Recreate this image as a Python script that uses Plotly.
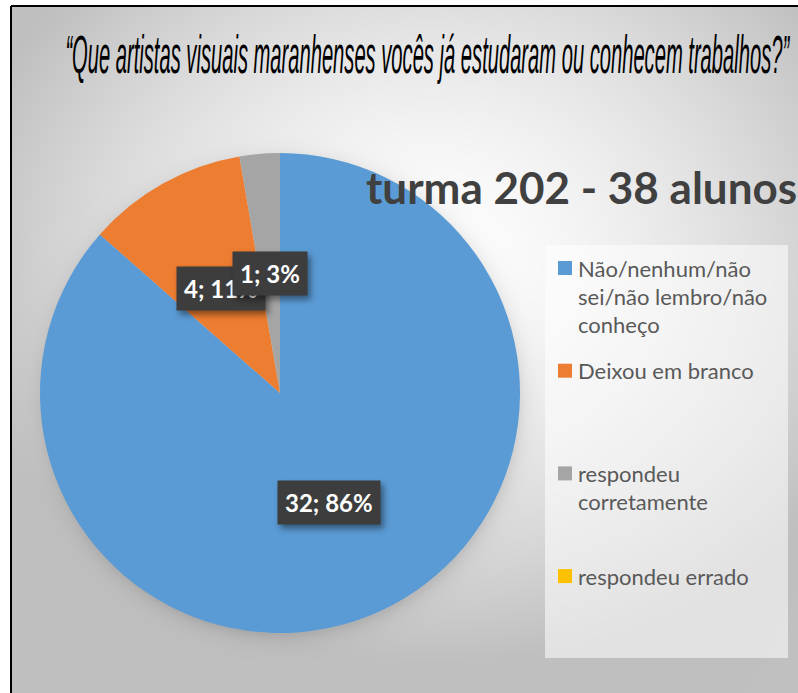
import plotly.graph_objects as go
import numpy as np
import zlib, struct, base64, math

# ---- data ----
labels = ["Não/nenhum/não<br>sei/não lembro/não<br>conheço",
          "Deixou em branco",
          "respondeu<br>corretamente",
          "respondeu errado"]
values = [32, 4, 1, 0]
colors = ["#5B9BD5", "#ED7D31", "#A5A5A5", "#FFC000"]
title_text = "“Que artistas visuais maranhenses vocês já estudaram ou conhecem trabalhos?”"
subtitle_text = "turma 202 - 38 alunos"

W, H = 798, 693
FX0, FY0 = 11, 6  # frame origin (px)


def px2paper(x, y):
    return x / W, 1 - y / H


# ---- pie geometry ----
cx, cy, R = 280, 393, 240


# ---- background gradient image ----
def make_png(arr):
    h, w = arr.shape
    raw = b"".join(b"\x00" + arr[i].tobytes() for i in range(h))

    def chunk(tag, data):
        return (struct.pack(">I", len(data)) + tag + data +
                struct.pack(">I", zlib.crc32(tag + data) & 0xffffffff))
    return (b"\x89PNG\r\n\x1a\n" +
            chunk(b"IHDR", struct.pack(">IIBBBBB", w, h, 8, 0, 0, 0, 0)) +
            chunk(b"IDAT", zlib.compress(raw, 9)) + chunk(b"IEND", b""))


gw, gh = W - FX0, H - FY0
yy, xx = np.mgrid[0:gh, 0:gw]
gx = xx + FX0
gy = yy + FY0
d = np.sqrt(((gx - 430) / 480.0) ** 2 + ((gy - 260) / 400.0) ** 2)
val = 255 - 63 * np.clip(d, 0, 1.0) ** 1.5
rr = np.sqrt((gx - cx - 2) ** 2 + (gy - cy - 3) ** 2)
shadow = np.where(rr > R - 20, 22 * np.exp(-np.clip(rr - R + 2, 0, None) / 9.0), 22)
val = val - shadow
img = np.clip(val, 0, 255).astype(np.uint8)
src = "data:image/png;base64," + base64.b64encode(make_png(img)).decode()

dom_x = [(cx - R) / W, (cx + R) / W]
dom_y = [1 - (cy + R) / H, 1 - (cy - R) / H]

fig = go.Figure()
fig.add_trace(go.Pie(
    labels=[l.replace("<br>", " ") for l in labels],
    values=values,
    marker=dict(colors=colors, line=dict(width=0)),
    sort=False, direction="clockwise", rotation=0,
    textinfo="none", showlegend=False,
    domain=dict(x=dom_x, y=dom_y),
))

annotations = []
shapes = []

# title (condensed horizontally by the post script below)
tx, ty = px2paper(427, 54)
annotations.append(dict(
    text="<i>" + title_text + "</i>", x=tx, y=ty, xref="paper", yref="paper",
    xanchor="center", yanchor="middle", showarrow=False,
    font=dict(family="Liberation Sans, Arial", size=53, color="#000000")))

# subtitle
sx, sy = px2paper(364, 187)
annotations.append(dict(
    text="<b>" + subtitle_text + "</b>", x=sx, y=sy, xref="paper", yref="paper",
    xanchor="left", yanchor="middle", showarrow=False,
    font=dict(family="Lato", size=44, color="#404040")))

# legend box
lx0, ly0 = px2paper(545, 245)
lx1, ly1 = px2paper(788, 658)
shapes.append(dict(type="rect", xref="paper", yref="paper",
                   x0=lx0, y0=ly1, x1=lx1, y1=ly0,
                   fillcolor="rgba(255,255,255,0.55)", line=dict(width=0),
                   layer="below"))

# legend items
item_y0, item_step, line_step = 268, 102.7, 28.4
for i, (lab, col) in enumerate(zip(labels, colors)):
    yc = item_y0 + i * item_step
    a0x, a0y = px2paper(558, yc - 7)
    a1x, a1y = px2paper(572, yc + 7)
    shapes.append(dict(type="rect", xref="paper", yref="paper",
                       x0=a0x, y0=a1y, x1=a1x, y1=a0y,
                       fillcolor=col, line=dict(width=0)))
    for j, line in enumerate(lab.split("<br>")):
        qx, qy = px2paper(576, yc + j * line_step)
        annotations.append(dict(
            text=line, x=qx, y=qy, xref="paper", yref="paper",
            xanchor="left", yanchor="middle", showarrow=False,
            font=dict(family="Lato", size=22, color="#595959")))

# data labels
total = sum(values)
cum = 0
for v in values:
    if v > 0:
        th = 2 * math.pi * (cum + v / 2) / total
        lpx = cx + 0.5 * R * math.sin(th)
        lpy = cy - 0.5 * R * math.cos(th)
        qx, qy = px2paper(lpx, lpy)
        annotations.append(dict(
            text="<b>%d; %d%%</b>" % (v, round(100 * v / total)),
            x=qx, y=qy, xref="paper", yref="paper",
            xanchor="center", yanchor="middle", showarrow=False,
            bgcolor="#3D3D3D", borderpad=7,
            font=dict(family="Lato", size=24, color="#FFFFFF")))
    cum += v

# frame lines
f0x, f0y = px2paper(FX0, FY0)
shapes.append(dict(type="line", xref="paper", yref="paper",
                   x0=f0x, y0=f0y, x1=1, y1=f0y, line=dict(color="black", width=2)))
shapes.append(dict(type="line", xref="paper", yref="paper",
                   x0=f0x, y0=0, x1=f0x, y1=f0y, line=dict(color="black", width=2)))

fig.update_layout(
    width=W, height=H,
    margin=dict(l=0, r=0, t=0, b=0),
    paper_bgcolor="white",
    annotations=annotations,
    shapes=shapes,
    images=[dict(source=src, xref="paper", yref="paper",
                 x=FX0 / W, y=1 - FY0 / H, sizex=(W - FX0) / W, sizey=(H - FY0) / H,
                 xanchor="left", yanchor="top", sizing="stretch", layer="below")],
)

# condense the title horizontally to the reference width (the text stays real text)
# and give the data-label boxes a soft drop shadow
post_js = """
document.body.style.margin = '0';
(function(){
  function fix(){
    var texts = document.querySelectorAll('text.annotation-text');
    texts.forEach(function(t){
      var tc = t.textContent;
      if (tc.indexOf('Que artistas') >= 0) {
        t.removeAttribute('transform');
        var b = t.getBBox();
        var c = b.x + b.width / 2, m = b.y + b.height / 2;
        var s = 725 / b.width;
        t.setAttribute('transform', 'translate(' + c + ',' + m + ') scale(' + s + ',1) translate(' + (-c) + ',' + (-m) + ')');
      } else if (tc.indexOf('%') >= 0) {
        var g = t.parentNode;
        var bg = g ? g.querySelector('rect.bg') : null;
        if (bg) { bg.style.filter = 'drop-shadow(3px 4px 3px rgba(0,0,0,0.45))'; }
      }
    });
  }
  fix();
  var gd = document.getElementById('{plot_id}');
  if (gd && gd.on) { gd.on('plotly_afterplot', fix); }
})();
"""

fig.write_html("out.html", post_script=post_js, config=dict(displayModeBar=False))
